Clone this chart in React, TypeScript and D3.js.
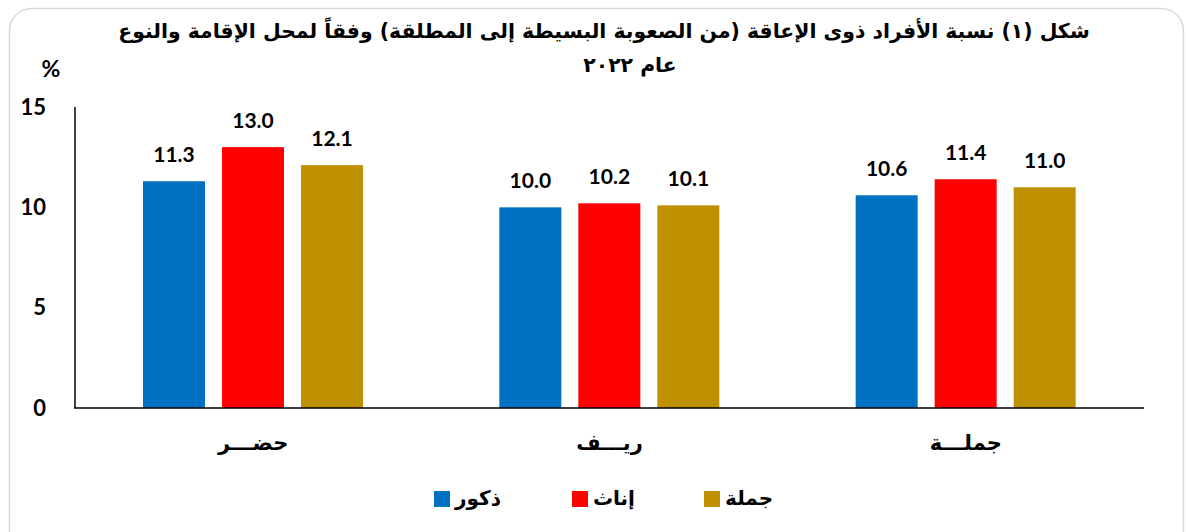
import React from "react";
import * as d3 from "d3";

const categories = ["حضـــر", "ريـــف", "جملـــة"];
const seriesNames = ["ذكور", "إناث", "جملة"];
const males = [11.3, 10.0, 10.6];
const females = [13.0, 10.2, 11.4];
const totals = [12.1, 10.1, 11.0];
const yTicks = [0, 5, 10, 15];
const colors = ["#0070C0", "#FF0000", "#BF9000"];
const titleLine1 = "شكل (١)  نسبة الأفراد ذوى الإعاقة (من الصعوبة البسيطة إلى المطلقة) وفقاً لمحل الإقامة والنوع";
const titleLine2 = "عام  ٢٠٢٢";

const W = 1186;
const H = 532;
const arabicFont = "'DejaVu Sans', 'Noto Sans', sans-serif";
const numFont = "Lato, 'Open Sans', sans-serif";

export default function App() {
  const series = [males, females, totals];
  const x0 = d3.scaleBand<string>().domain(categories).range([75, 1144]).paddingInner(0).paddingOuter(0);
  const x1 = d3
    .scaleBand<number>()
    .domain([0, 1, 2])
    .range([68, 288])
    .paddingInner(17 / 79)
    .paddingOuter(0);
  const y = d3.scaleLinear().domain([0, 15]).range([408, 107]);

  const legendX = [434, 572, 704];

  return (
    <svg
      width={W}
      height={H}
      style={{ position: "absolute", left: 0, top: 0, display: "block", background: "#fff" }}
    >
      <rect x={9.5} y={8.5} width={1174} height={560} rx={22} fill="#fff" stroke="#d9d9d9" strokeWidth={1.5} />
      <text
        x={604}
        y={38}
        textAnchor="middle"
        direction="rtl"
        fontFamily={arabicFont}
        fontWeight="bold"
        fontSize={20.4}
        fill="#000"
      >
        {titleLine1}
      </text>
      <text
        x={630}
        y={72}
        textAnchor="middle"
        direction="rtl"
        fontFamily={arabicFont}
        fontWeight="bold"
        fontSize={20.4}
        fill="#000"
      >
        {titleLine2}
      </text>
      <text x={51} y={77} textAnchor="middle" fontFamily={numFont} fontWeight="bold" fontSize={23} fill="#000">
        %
      </text>

      {yTicks.map((t) => (
        <text
          key={t}
          x={46}
          y={y(t)}
          dy="0.35em"
          textAnchor="end"
          fontFamily={numFont}
          fontWeight="bold"
          fontSize={22}
          fill="#000"
        >
          {t}
        </text>
      ))}

      {categories.map((c, i) => (
        <g key={c} transform={`translate(${x0(c)},0)`}>
          {series.map((s, j) => {
            const v = s[i];
            const bx = x1(j)!;
            const bw = x1.bandwidth();
            return (
              <g key={j}>
                <rect x={bx} y={y(v)} width={bw} height={y(0) - y(v)} fill={colors[j]} />
                <text
                  x={bx + bw / 2}
                  y={y(v) - 19}
                  textAnchor="middle"
                  fontFamily={numFont}
                  fontWeight="bold"
                  fontSize={21}
                  fill="#000"
                >
                  {v.toFixed(1)}
                </text>
              </g>
            );
          })}
          <text
            x={x0.bandwidth() / 2}
            y={450}
            textAnchor="middle"
            direction="rtl"
            fontFamily={arabicFont}
            fontWeight="bold"
            fontSize={21}
            fill="#000"
          >
            {c}
          </text>
        </g>
      ))}

      <line x1={75} x2={75} y1={y(15)} y2={y(0)} stroke="#000" strokeWidth={1.5} />
      <line x1={74} x2={1144} y1={y(0)} y2={y(0)} stroke="#000" strokeWidth={1.5} />

      {seriesNames.map((n, i) => (
        <g key={n}>
          <rect x={legendX[i]} y={491} width={16} height={16} fill={colors[i]} />
          <text
            x={legendX[i] + 21}
            y={505}
            textAnchor="start"
            fontFamily={arabicFont}
            fontWeight="bold"
            fontSize={20}
            fill="#000"
          >
            {n}
          </text>
        </g>
      ))}
    </svg>
  );
}
